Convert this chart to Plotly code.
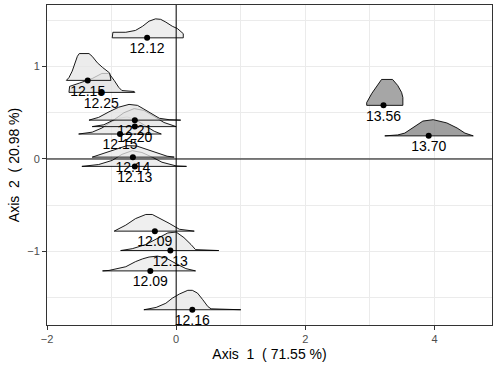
import plotly.graph_objects as go

# point labels (mean value of each group) and PCA coordinates
labels = ["12.12", "12.15", "12.25", "12.21", "12.20", "12.15", "12.14",
          "12.13", "12.09", "12.13", "12.09", "12.16", "13.56", "13.70"]
axis1 = [-0.45, -1.37, -1.16, -0.64, -0.64, -0.87, -0.67,
         -0.64, -0.33, -0.09, -0.40, 0.25, 3.21, 3.91]
axis2 = [1.31, 0.85, 0.72, 0.42, 0.35, 0.27, 0.02,
         -0.08, -0.78, -0.99, -1.21, -1.63, 0.58, 0.25]

# ridge profiles drawn above each point (x along axis 1, height in axis 2 units)
ridge_x = [
    [-0.99, -0.98, -0.78, -0.63, -0.52, -0.42, -0.32, -0.24, -0.16, -0.06, 0.02, 0.07, 0.11, 0.11],
    [-1.70, -1.66, -1.61, -1.57, -1.53, -1.50, -1.35, -1.30, -1.22, -1.14, -1.07, -1.03, -1.01],
    [-1.66, -1.65, -1.50, -1.30, -1.15, -1.04, -0.96, -0.89, -0.84, -0.65, -0.64],
    [-1.35, -1.20, -1.04, -0.89, -0.73, -0.60, -0.50, -0.39, -0.26, -0.11, 0.07],
    [-1.30, -1.12, -0.96, -0.81, -0.65, -0.50, -0.34, -0.19, 0.0],
    [-1.51, -1.30, -1.15, -1.01, -0.89, -0.76, -0.64, -0.50, -0.34, -0.23],
    [-1.30, -1.13, -0.93, -0.76, -0.61, -0.45, -0.30, -0.14, -0.03],
    [-1.46, -1.20, -0.99, -0.84, -0.68, -0.53, -0.37, -0.22, 0.0, 0.16],
    [-0.96, -0.78, -0.63, -0.47, -0.37, -0.24, -0.11, 0.05, 0.28],
    [-0.86, -0.68, -0.47, -0.26, -0.13, 0.0, 0.12, 0.23, 0.30, 0.66],
    [-1.14, -1.04, -0.78, -0.63, -0.52, -0.42, -0.29, -0.16, -0.005, 0.15, 0.30],
    [-0.50, -0.31, -0.16, -0.06, 0.05, 0.18, 0.25, 0.33, 0.41, 0.49, 0.54, 1.0],
    [2.95, 2.95, 3.03, 3.11, 3.18, 3.35, 3.43, 3.49, 3.51, 3.51],
    [3.23, 3.43, 3.54, 3.70, 3.82, 3.98, 4.19, 4.35, 4.47, 4.60],
]
ridge_h = [
    [0, 0.06, 0.06, 0.08, 0.125, 0.18, 0.205, 0.2, 0.17, 0.125, 0.1, 0.07, 0.045, 0],
    [0, 0.03, 0.1, 0.18, 0.26, 0.29, 0.29, 0.26, 0.19, 0.14, 0.1, 0.08, 0],
    [0, 0.065, 0.1, 0.15, 0.205, 0.205, 0.13, 0.055, 0.02, 0.01, 0],
    [0, 0.03, 0.09, 0.14, 0.17, 0.16, 0.12, 0.07, 0.02, 0.005, 0],
    [0, 0.02, 0.075, 0.15, 0.195, 0.175, 0.11, 0.045, 0],
    [0, 0.02, 0.065, 0.13, 0.17, 0.185, 0.16, 0.1, 0.03, 0],
    [0, 0.04, 0.09, 0.125, 0.12, 0.085, 0.045, 0.01, 0],
    [0, 0.02, 0.065, 0.13, 0.17, 0.15, 0.1, 0.045, 0.005, 0],
    [0, 0.065, 0.135, 0.18, 0.18, 0.135, 0.085, 0.02, 0],
    [0, 0.02, 0.065, 0.14, 0.19, 0.2, 0.14, 0.065, 0.01, 0],
    [0, 0.005, 0.045, 0.1, 0.13, 0.15, 0.16, 0.14, 0.08, 0.025, 0],
    [0, 0.025, 0.07, 0.125, 0.17, 0.21, 0.21, 0.18, 0.11, 0.035, 0.01, 0],
    [0, 0.03, 0.13, 0.215, 0.28, 0.28, 0.215, 0.14, 0.085, 0],
    [0, 0.01, 0.03, 0.1, 0.16, 0.175, 0.14, 0.085, 0.03, 0],
]

FONT = "Liberation Sans, Arial"


def fill_colour(v):
    # white -> grey gradient on the group value
    t = (v - 12.0) / 1.8
    c = int(round(240 - t * 120))
    return f"rgba({c},{c},{c},0.75)"


fig = go.Figure()

# draw the lowest ridges first so upper ones sit in front
order = sorted(range(len(labels)), key=lambda i: axis2[i])
for i in order:
    xs = list(ridge_x[i]) + [ridge_x[i][0]]
    ys = [axis2[i] + h for h in ridge_h[i]] + [axis2[i]]
    fig.add_trace(go.Scatter(
        x=xs, y=ys, mode="lines", fill="toself",
        fillcolor=fill_colour(float(labels[i])),
        line=dict(color="black", width=0.9),
        hoverinfo="skip", showlegend=False,
    ))

fig.add_trace(go.Scatter(
    x=axis1, y=axis2, mode="markers+text",
    text=labels, textposition="bottom center",
    textfont=dict(family=FONT, size=14, color="black"),
    marker=dict(color="black", size=6),
    showlegend=False,
))

fig.add_hline(y=0, line=dict(color="black", width=1), layer="above")
fig.add_vline(x=0, line=dict(color="black", width=1), layer="above")

axis_common = dict(
    showline=True, mirror=True, linecolor="#333333", linewidth=1,
    ticks="outside", ticklen=4, tickcolor="#333333",
    tickfont=dict(family=FONT, size=11, color="#4d4d4d"),
    gridcolor="#ebebeb", gridwidth=1, zeroline=False, automargin=False,
)

fig.update_xaxes(
    range=[-2.0, 4.89], tickvals=[-2, 0, 2, 4],
    minor=dict(tickvals=[-1, 1, 3], showgrid=True, gridcolor="#ebebeb", gridwidth=1, ticks=""),
    title=dict(text="Axis\u00a0 1\u00a0 ( 71.55 %)", standoff=4,
               font=dict(family=FONT, size=14, color="black")),
    **axis_common,
)
fig.update_yaxes(
    range=[-1.795, 1.665], tickvals=[-1, 0, 1],
    minor=dict(tickvals=[-1.5, -0.5, 0.5, 1.5], showgrid=True, gridcolor="#ebebeb", gridwidth=1, ticks=""),
    title=dict(text="Axis\u00a0 2\u00a0 ( 20.98 %)", standoff=4,
               font=dict(family=FONT, size=14, color="black")),
    **axis_common,
)

fig.update_layout(
    width=500, height=372,
    margin=dict(l=47, r=8, t=5, b=47),
    paper_bgcolor="white", plot_bgcolor="white",
)

# drop the browser's default page margin so the figure sits at the window corner
fig.write_html("out.html", config={"displayModeBar": False},
               post_script="document.body.style.margin='0';")
